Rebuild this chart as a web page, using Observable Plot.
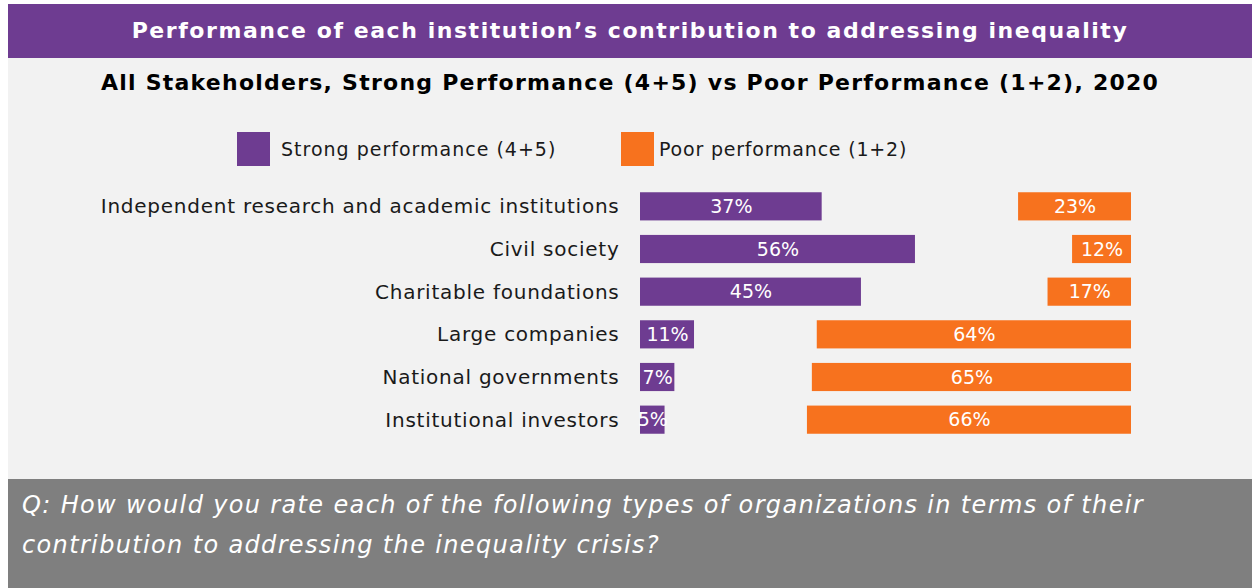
<!DOCTYPE html>
<html>
<head>
<meta charset="utf-8">
<script src="https://cdn.jsdelivr.net/npm/d3@7"></script>
<script src="https://cdn.jsdelivr.net/npm/@observablehq/plot@0.6"></script>
<style>
  html, body { margin: 0; padding: 0; background: #ffffff; }
  #wrap { position: relative; width: 1252px; height: 588px; overflow: hidden; background: #ffffff; font-family: "DejaVu Sans", sans-serif; }
  #panel { position: absolute; left: 8px; top: 4px; width: 1244px; height: 584px; background: #f2f2f2; }
  #title { position: absolute; left: 8px; top: 4px; width: 1244px; height: 54px; background: #6e3c91; color: #ffffff; font-weight: 700; font-size: 22px; letter-spacing: 1.55px; line-height: 54px; text-align: center; }
  #subtitle { position: absolute; left: 8px; top: 65px; width: 1244px; text-align: center; color: #000000; font-weight: 700; font-size: 22px; letter-spacing: 1.24px; line-height: 36px; }
  .leg { position: absolute; top: 132px; display: flex; align-items: center; font-size: 19px; color: #1a1a1a; white-space: nowrap; }
  .sw { width: 33px; height: 34px; margin-right: 11px; }
  #chart { position: absolute; left: 0; top: 185px; }
  #chart g[aria-label="y-axis tick label"] text { letter-spacing: 0.75px; }
  #footer { position: absolute; left: 8px; top: 479px; width: 1244px; height: 109px; background: #7f7f7f; color: #ffffff; font-style: italic; font-size: 24px; letter-spacing: 1.35px; line-height: 40px; padding: 6px 0 0 14px; box-sizing: border-box; }
</style>
</head>
<body>
<div id="wrap">
  <div id="panel"></div>
  <div id="title"></div>
  <div id="subtitle"></div>
  <div class="leg" id="leg1" style="left:237px; letter-spacing:1px"></div>
  <div class="leg" id="leg2" style="left:621px; letter-spacing:0.8px"></div>
  <div id="chart"></div>
  <div id="footer"></div>
</div>
<script>
const titleText = "Performance of each institution’s contribution to addressing inequality";
const subtitleText = "All Stakeholders, Strong Performance (4+5) vs Poor Performance (1+2), 2020";
const footerText = "Q: How would you rate each of the following types of organizations in terms of their contribution to addressing the inequality crisis?";
const seriesNames = ["Strong performance (4+5)", "Poor performance (1+2)"];
const seriesColors = ["#6e3c91", "#f7721e"];

const categories = [
  "Independent research and academic institutions",
  "Civil society",
  "Charitable foundations",
  "Large companies",
  "National governments",
  "Institutional investors"
];
const strong = [37, 56, 45, 11, 7, 5];
const poor = [23, 12, 17, 64, 65, 66];

document.getElementById("title").textContent = titleText;
document.getElementById("subtitle").textContent = subtitleText;
document.getElementById("footer").textContent = footerText;
[["leg1", 0], ["leg2", 1]].forEach(([id, i]) => {
  const el = document.getElementById(id);
  el.innerHTML = `<div class="sw" style="background:${seriesColors[i]}"></div><span>${seriesNames[i]}</span>`;
});
document.getElementById("leg2").querySelector(".sw").style.marginRight = "5px";

const rows = categories.map((c, i) => ({category: c, strong: strong[i], poor: poor[i]}));

const chart = Plot.plot({
  width: 1252,
  height: 256,
  marginLeft: 640,
  marginRight: 121,
  marginTop: 0,
  marginBottom: 0,
  style: {background: "transparent", fontFamily: "'DejaVu Sans', sans-serif"},
  x: {domain: [0, 100], axis: null},
  y: {domain: categories, paddingInner: 0.34, paddingOuter: 0.17, round: false, label: null},
  marks: [
    Plot.axisY({tickSize: 0, tickPadding: 21, fontSize: 20, color: "#1a1a1a", label: null}),
    Plot.barX(rows, {y: "category", x1: 0, x2: "strong", fill: seriesColors[0]}),
    Plot.barX(rows, {y: "category", x1: d => 100 - d.poor, x2: 100, fill: seriesColors[1]}),
    Plot.text(rows, {y: "category", x: d => d.strong / 2, text: d => d.strong + "%", fill: "#ffffff", fontSize: 19}),
    Plot.text(rows, {y: "category", x: d => 100 - d.poor / 2, text: d => d.poor + "%", fill: "#ffffff", fontSize: 19})
  ]
});
document.getElementById("chart").appendChild(chart);
</script>
</body>
</html>
